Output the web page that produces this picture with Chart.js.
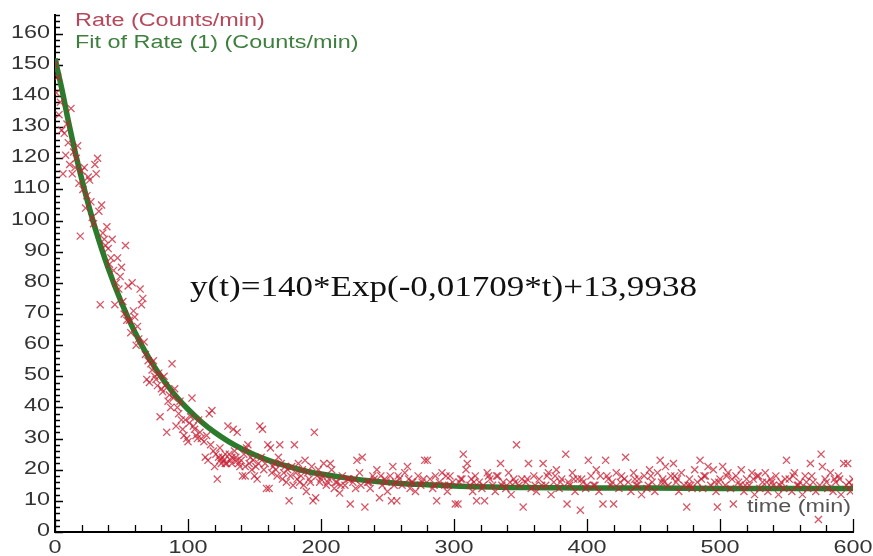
<!DOCTYPE html>
<html>
<head>
<meta charset="utf-8">
<script src="https://cdn.jsdelivr.net/npm/chart.js@4.4.1/dist/chart.umd.min.js"></script>
<style>
  html, body { margin: 0; padding: 0; background: #fff; }
  #wrap { width: 873px; height: 556px; }
</style>
</head>
<body>
<div id="wrap"><canvas id="rateChart" width="873" height="556"></canvas></div>
<script>
// measured count rate (time in min, rate in counts/min)
const times = [
  0, 1, 2, 3, 4, 5, 6, 7, 8, 9, 10, 11, 12, 13, 14, 15, 16, 17, 18, 19,
  20, 21, 22, 23, 24, 25, 26, 27, 28, 29, 30, 31, 32, 33, 34, 35, 36, 37, 38, 39,
  40, 41, 42, 43, 44, 45, 46, 47, 48, 49, 50, 51, 52, 53, 54, 55, 56, 57, 58, 59,
  60, 61, 62, 63, 64, 65, 66, 67, 68, 69, 70, 71, 72, 73, 74, 75, 76, 77, 78, 79,
  80, 81, 82, 83, 84, 85, 86, 87, 88, 89, 90, 91, 92, 93, 94, 95, 96, 97, 98, 99,
  100, 101, 102, 103, 104, 105, 106, 107, 108, 109, 110, 112, 114, 115, 116, 117, 118, 119, 120, 121,
  122, 123, 124, 125, 126, 127, 128, 129, 130, 131, 132, 133, 134, 135, 136, 137, 138, 139, 140, 141,
  142, 143, 144, 145, 146, 147, 148, 149, 150, 151, 152, 153, 154, 155, 156, 157, 158, 159, 160, 161,
  162, 163, 164, 165, 166, 167, 168, 169, 170, 171, 172, 173, 174, 175, 176, 177, 178, 179, 180, 181,
  182, 183, 184, 185, 186, 187, 188, 189, 190, 191, 192, 193, 194, 195, 196, 197, 198, 199, 200, 202,
  204, 206, 207, 208, 210, 212, 214, 216, 218, 220, 222, 224, 226, 227, 229, 231, 233, 235, 237, 239,
  242, 244, 246, 248, 250, 252, 253, 254, 256, 257, 259, 261, 263, 265, 267, 269, 271, 273, 275, 278,
  280, 282, 284, 287, 289, 291, 293, 295, 297, 299, 301, 303, 305, 307, 309, 310, 312, 314, 316, 317,
  319, 321, 323, 325, 327, 329, 331, 333, 335, 337, 339, 341, 343, 345, 347, 349, 352, 354, 356, 358,
  360, 362, 364, 367, 369, 371, 373, 375, 377, 379, 381, 384, 385, 387, 389, 391, 393, 395, 397, 399,
  401, 403, 405, 407, 409, 412, 414, 416, 418, 420, 422, 424, 426, 429, 431, 433, 435, 437, 439, 441,
  443, 445, 447, 449, 451, 453, 455, 457, 459, 461, 463, 465, 467, 469, 471, 473, 475, 477, 479, 481,
  483, 485, 487, 489, 491, 493, 495, 497, 498, 500, 502, 504, 506, 508, 510, 512, 514, 516, 518, 520,
  522, 524, 526, 528, 530, 532, 534, 536, 538, 540, 542, 544, 546, 548, 550, 552, 554, 556, 558, 560,
  562, 564, 566, 568, 570, 572, 574, 576, 577, 579, 581, 583, 585, 587, 589, 591, 593, 595, 596, 598,
  600,
  // second pass of the dense band
  205, 215, 225, 236, 245, 255, 266, 276, 286, 296, 306, 315, 326, 336, 346, 355, 366, 376, 386, 396,
  406, 415, 425, 436, 446, 456, 466, 476, 486, 496, 505, 515, 525, 535, 545, 555, 565, 575, 586, 597,
  // third pass
  201, 211, 221, 230, 240, 249, 258, 268, 277, 285, 294, 304, 313, 322, 332, 342, 351, 361, 370, 380,
  390, 400, 410, 419, 428, 438, 448, 458, 468, 478, 488, 499, 509, 519, 529, 539, 549, 559, 569, 580,
  590, 599, 113, 124, 128, 133, 137, 143, 147, 151
];
const rates = [
  150, 141, 146, 134, 138, 129, 115, 128, 121, 131, 125, 118, 136, 115, 122, 117, 120, 124, 112, 95,
  116, 110, 117, 104, 108, 114, 113, 106, 101, 99, 118, 115, 120, 103, 73, 105, 96, 94, 92, 98,
  91, 86, 88, 94, 84, 73, 80, 88, 78, 82, 85, 74, 70, 92, 68, 79, 68, 64, 80, 71,
  69, 60, 66, 62, 78, 73, 75, 61, 57, 49, 55, 48, 54, 52, 55, 50, 49, 47, 51, 37,
  46, 45, 50, 47, 32, 42, 44, 40, 54, 43, 46, 34, 40, 38, 42, 36, 33, 31, 36, 30,
  29, 35, 37, 43, 34, 33, 31, 30, 36, 32, 30, 29, 31, 23, 38, 28, 39, 26, 21, 25,
  17, 24, 27, 22, 24, 23, 25, 22, 34, 25, 23, 22, 33, 26, 24, 32, 22, 21, 23, 18,
  25, 18, 27, 28, 22, 24, 20, 23, 18, 21, 17, 22, 34, 24, 33, 20, 22, 14, 28, 14,
  27, 19, 21, 22, 20, 18, 24, 28, 22, 17, 19, 21, 16, 20, 10, 18, 21, 15, 28, 19,
  17, 22, 16, 18, 20, 15, 23, 13, 19, 17, 16, 21, 10, 32, 11, 18, 20, 16, 17, 22,
  15, 17, 22, 20, 14, 16, 12.5, 18, 15, 17, 9, 16, 14, 23, 19, 24, 8, 16, 14, 18,
  20, 11, 15, 17, 13, 18, 10, 21, 16, 10, 17, 15, 19, 21, 14, 16, 13, 18, 15, 23,
  23, 17, 14, 10, 16, 19, 15, 13, 18, 16, 9, 9, 17, 25, 20, 22, 15, 13, 18, 10,
  16, 14, 10, 19, 17, 15, 13, 18, 22, 16, 14, 19, 12, 17, 28, 15, 8, 16, 22, 14,
  18, 13, 17, 22, 15, 19, 12, 16, 20, 14, 17, 25, 9, 15, 19, 13, 17, 7, 16, 14,
  23, 18, 15, 20, 13, 9, 23, 17, 15, 9, 19, 14, 18, 24, 16, 13, 19, 15, 17, 12,
  18, 14, 20, 16, 13, 19, 23, 17, 21, 15, 18, 22, 16, 13, 19, 15, 8, 17, 14, 20,
  16, 23, 14, 18, 21, 15, 20, 13, 8, 17, 21, 15, 19, 14, 9, 18, 16, 20, 13, 17,
  15, 19, 12, 18, 14, 16, 19, 13, 17, 15, 18, 12, 16, 14, 23, 17, 13, 19, 15, 16,
  12, 18, 14, 22, 16, 13, 4, 25, 21, 17, 14, 19, 13, 16, 18, 12, 22, 15, 22, 13,
  17,
  16, 15, 17, 16, 18, 15, 17, 16, 18, 15, 17, 16, 18, 15, 16, 17, 15, 18, 16, 17,
  15, 18, 16, 17, 15, 16, 18, 15, 17, 16, 18, 15, 17, 16, 15, 18, 16, 15, 17, 16,
  18, 16, 17, 15, 17, 16, 18, 16, 17, 15, 18, 16, 17, 15, 18, 16, 17, 15, 18, 16,
  17, 15, 18, 16, 17, 15, 18, 16, 17, 15, 18, 16, 17, 15, 18, 16, 17, 15, 18, 16,
  17, 15, 24, 23, 22, 24, 23, 21
];

const fitTimes = [0, 5, 10, 15, 20, 25, 30, 40, 50, 60, 70, 80, 90, 100, 110, 120, 130, 140, 150, 160,
  170, 180, 190, 200, 220, 240, 260, 280, 300, 350, 400, 450, 500, 550, 600];
const fitRates = [152, 142.5, 132, 122.3, 113.5, 105.3, 97.8, 84.7, 73.6, 64.2, 56.3, 49.7, 44.1, 39.4, 35.4, 32, 29.2, 26.8, 24.8, 23.1,
  21.7, 20.5, 19.4, 18.6, 17.3, 16.3, 15.6, 15.2, 14.8, 14.3, 14.1, 14.1, 14, 14, 14];

const xTickLabels = [0, 100, 200, 300, 400, 500, 600];
const yTickLabels = [0, 10, 20, 30, 40, 50, 60, 70, 80, 90, 100, 110, 120, 130, 140, 150, 160];

const legendLabels = ['Rate (Counts/min)', 'Fit of Rate (1) (Counts/min)'];
const equation = 'y(t)=140*Exp(-0,01709*t)+13,9938';
const xTitle = 'time (min)';

const rateColor = 'rgba(200, 30, 50, 0.75)';
const fitColor = '#2c7a2c';
const sansFont = '"Liberation Sans", Arial, sans-serif';
const stretch = 1.3; // the original picture is widened

function wideText(ctx, text, x, y, align) {
  const w = ctx.measureText(text).width * stretch;
  let left = x;
  if (align === 'right') left = x - w;
  if (align === 'center') left = x - w / 2;
  ctx.save();
  ctx.translate(left, y);
  ctx.scale(stretch, 1);
  ctx.textAlign = 'left';
  ctx.fillText(text, 0, 0);
  ctx.restore();
}

// inner ticks, tick labels, titles and equation text
const overlay = {
  id: 'overlay',
  beforeDatasetsDraw(chart) {
    const ctx = chart.ctx;
    const area = chart.chartArea;
    const x = chart.scales.x, y = chart.scales.y;
    ctx.save();
    ctx.strokeStyle = '#000';
    ctx.lineWidth = 1.3;
    ctx.beginPath();
    for (let v = 0; v <= y.max; v += 2) {
      const py = Math.round(y.getPixelForValue(v)) + 0.5;
      const len = v % 10 === 0 ? 8 : 5;
      ctx.moveTo(area.left, py);
      ctx.lineTo(area.left + len, py);
    }
    for (let t = 0; t <= x.max; t += 20) {
      const px = Math.round(x.getPixelForValue(t)) + 0.5;
      const len = t % 100 === 0 ? 13 : 7;
      ctx.moveTo(px, area.bottom);
      ctx.lineTo(px, area.bottom - len);
    }
    ctx.stroke();

    ctx.fillStyle = '#333';
    ctx.font = '18px ' + sansFont;
    ctx.textBaseline = 'middle';
    yTickLabels.forEach(v => wideText(ctx, String(v), area.left - 5, y.getPixelForValue(v) - 1, 'right'));
    ctx.textBaseline = 'alphabetic';
    xTickLabels.forEach(t => wideText(ctx, String(t), x.getPixelForValue(t), area.bottom + 21, 'center'));

    ctx.font = '18px ' + sansFont;
    ctx.fillStyle = '#555';
    wideText(ctx, xTitle, area.right - 2, area.bottom - 20, 'right');
    ctx.restore();
  },
  afterDraw(chart) {
    const ctx = chart.ctx;
    ctx.save();
    ctx.font = '18px ' + sansFont;
    ctx.textBaseline = 'alphabetic';
    ctx.fillStyle = '#b5485a';
    wideText(ctx, legendLabels[0], 75, 26, 'left');
    ctx.fillStyle = '#3d7f3d';
    wideText(ctx, legendLabels[1], 75, 48, 'left');

    // equation fitted to the width it has in the picture
    ctx.font = '30px "Liberation Serif", "DejaVu Serif", serif';
    ctx.fillStyle = '#111';
    const w = ctx.measureText(equation).width;
    ctx.translate(190, 296);
    ctx.scale(507 / w, 1);
    ctx.fillText(equation, 0, 0);
    ctx.restore();
  }
};

new Chart(document.getElementById('rateChart'), {
  type: 'scatter',
  data: {
    datasets: [
      {
        label: legendLabels[0],
        data: times.map((t, i) => ({ x: t, y: rates[i] })),
        pointStyle: 'crossRot',
        pointRadius: 5,
        borderColor: rateColor,
        backgroundColor: rateColor,
        borderWidth: 1.3,
        order: 0
      },
      {
        label: legendLabels[1],
        data: fitTimes.map((t, i) => ({ x: t, y: fitRates[i] })),
        showLine: true,
        pointRadius: 0,
        borderColor: fitColor,
        borderWidth: 5.5,
        cubicInterpolationMode: 'monotone',
        order: 1
      }
    ]
  },
  plugins: [overlay],
  options: {
    responsive: false,
    animation: false,
    layout: { padding: { top: 15, right: 20, left: 0, bottom: 0 } },
    plugins: {
      legend: { display: false },
      tooltip: { enabled: false }
    },
    scales: {
      x: {
        type: 'linear',
        min: 0,
        max: 600,
        afterFit: s => { s.height = 24; },
        ticks: { display: false, stepSize: 100 },
        grid: { drawOnChartArea: false, drawTicks: false },
        border: { color: '#000', width: 2 }
      },
      y: {
        min: 0,
        max: 166,
        afterFit: s => { s.width = 55; },
        ticks: { display: false, stepSize: 10 },
        grid: { drawOnChartArea: false, drawTicks: false },
        border: { color: '#000', width: 2 }
      }
    }
  }
});
</script>
</body>
</html>
